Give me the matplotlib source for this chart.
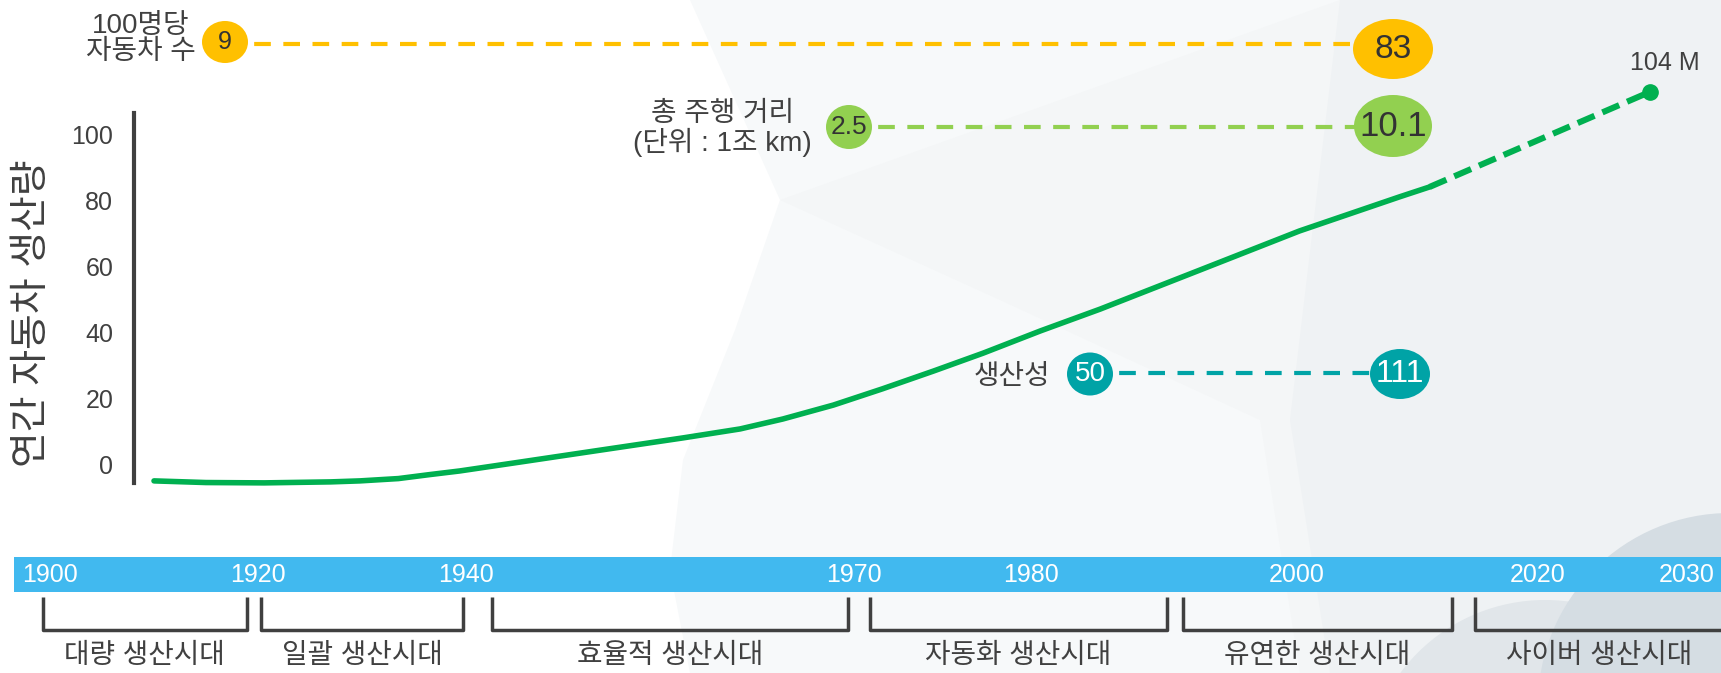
import numpy as np
import matplotlib
matplotlib.use('Agg')
import matplotlib.pyplot as plt
from matplotlib.patches import Ellipse, Polygon, Circle
from matplotlib import transforms

plt.rcParams['font.family'] = ['Liberation Sans', 'Noto Sans CJK KR']

# ---------------- data ----------------
timeline_years = [1900, 1920, 1940, 1970, 1980, 2000, 2020, 2030]
timeline_labels = ['1900', '1920', '1940', '1970', '1980', '2000', '2020', '2030']

era_names = ['대량 생산시대', '일괄 생산시대', '효율적 생산시대',
             '자동화 생산시대', '유연한 생산시대', '사이버 생산시대']
era_start = [1899.3, 1920.3, 1942.0, 1970.9, 1991.4, 2014.8]
era_end = [1918.9, 1939.7, 1969.5, 1990.2, 2012.9, 2032.4]

prod_years = [1910.0, 1915.0, 1920.6, 1927.0, 1929.8, 1933.5, 1936.5, 1939.4,
              1944.2, 1950.4, 1956.8, 1961.2, 1964.5, 1968.4, 1971.6, 1974.5,
              1977.3, 1980.7, 1985.2, 1992.7, 2000.2, 2008.5, 2011.0]
prod_values = [-4.8, -5.3, -5.4, -5.1, -4.8, -4.1, -2.9, -1.8,
               0.9, 4.5, 8.2, 10.9, 13.9, 18.1, 23.0, 28.4,
               33.8, 40.5, 47.1, 58.9, 70.7, 81.0, 84.0]
proj_years = [2011.0, 2027.5]
proj_values = [84.0, 112.7]
proj_label = '104 M'

y_ticks = [0, 20, 40, 60, 80, 100]
y_label = '연간 자동차 생산량'

metric_names = ['100명당\n자동차 수', '총 주행 거리\n(단위 : 1조 km)', '생산성']
metric_start = ['9', '2.5', '50']
metric_end = ['83', '10.1', '111']

# ---------------- layout ----------------
W, H = 1721, 673
YA = np.array(timeline_years, dtype=float)          # timeline anchors (years)
PA = np.array([50, 258, 466, 854, 1031, 1297, 1538, 1687], dtype=float)  # pixel positions
Y0_PX, PPU = 465.0, 3.31


def _pw(x, xa, pa):
    x = np.asarray(x, dtype=float)
    out = np.interp(x, xa, pa)
    s0 = (pa[1] - pa[0]) / (xa[1] - xa[0])
    s1 = (pa[-1] - pa[-2]) / (xa[-1] - xa[-2])
    out = np.where(x < xa[0], pa[0] + (x - xa[0]) * s0, out)
    out = np.where(x > xa[-1], pa[-1] + (x - xa[-1]) * s1, out)
    return out


def year_to_px(x):
    return _pw(x, YA, PA)


def px_to_year(p):
    return _pw(p, PA, YA)


def yr(p):
    return float(px_to_year(p))


def val(py):
    return (Y0_PX - py) / PPU


DARK = '#404040'
GOLD, LGREEN, TEAL = '#ffc000', '#92d050', '#00a3a6'
LINE_GREEN = '#00b050'
BAR_BLUE = '#41b9ef'

fig = plt.figure(figsize=(W / 100, H / 100), dpi=100)
fig.patch.set_facecolor('white')

# background decoration (pixel space)
bg = fig.add_axes([0, 0, 1, 1], zorder=0)
bg.set_xlim(0, W)
bg.set_ylim(H, 0)
bg.axis('off')
bg.add_patch(Polygon([(690, 0), (780, 200), (735, 330), (683, 460), (670, 570),
                      (690, H), (W, H), (W, 0)], closed=True, fc='#f7f9fa', ec='none'))
bg.add_patch(Polygon([(780, 200), (1340, 0), (W, 0), (W, H), (1300, H), (1260, 420),
                      (1000, 300)], closed=True, fc='#f4f6f7', ec='none'))
bg.add_patch(Polygon([(1340, 0), (W, 0), (W, H), (1330, H), (1290, 420)],
                     closed=True, fc='#eff2f4', ec='none'))
bg.add_patch(Circle((1545, 780), 180, fc='#e1e6ea', ec='none'))
bg.add_patch(Circle((1730, 705), 192, fc='#d5dde3', ec='none'))

# main axes
ax = fig.add_axes([0, 0, 1, 1], zorder=1)
ax.patch.set_alpha(0)
ax.set_xscale('function', functions=(year_to_px, px_to_year))
ax.set_xlim(yr(0), yr(W))
ax.set_ylim(val(H), val(0))

for s in ['top', 'right', 'bottom']:
    ax.spines[s].set_visible(False)
ax.spines['left'].set_position(('data', yr(134)))
ax.spines['left'].set_bounds(val(483), val(113))
ax.spines['left'].set_color(DARK)
ax.spines['left'].set_linewidth(3.0)
ax.set_xticks([])
ax.set_yticks(y_ticks)
ax.set_yticklabels([str(t) for t in y_ticks])
ax.tick_params(axis='y', length=0, pad=15, labelsize=18, labelcolor=DARK)

ax.text(yr(33), val(313), y_label, rotation=90, ha='center', va='center',
        fontsize=28, color=DARK)

# production line
ax.plot(prod_years, prod_values, color=LINE_GREEN, lw=4.0,
        solid_capstyle='round', solid_joinstyle='round', zorder=5)
ax.plot(proj_years, proj_values, color=LINE_GREEN, lw=4.4, dashes=(3.0, 1.4), zorder=5)
ax.plot([proj_years[-1]], [proj_values[-1]], 'o', ms=11, color=LINE_GREEN, zorder=5)
ax.text(yr(1665), val(63), proj_label, ha='center', va='center', fontsize=18, color=DARK)

# timeline bar
ax.axhspan(val(592), val(557), xmin=14 / W, xmax=1, color=BAR_BLUE, lw=0, zorder=3)
for yv, lab in zip(timeline_years, timeline_labels):
    ax.text(yv, val(575), lab, ha='center', va='center', color='white',
            fontsize=18, zorder=4)

# era brackets
top_v, bot_v = val(597), val(630)
for x0, x1, name in zip(era_start, era_end, era_names):
    ax.plot([x0, x0, x1, x1], [top_v, bot_v, bot_v, top_v], color=DARK, lw=2.5,
            solid_joinstyle='round', solid_capstyle='butt', zorder=3, clip_on=False)
    cx = yr((float(year_to_px(x0)) + float(year_to_px(x1))) / 2)
    ax.text(cx, val(656), name, ha='center', va='center', fontsize=20, color=DARK)

# metric rows
row_y_px = [44, 127, 373]
start_y_px = [42, 127, 374]
end_y_px = [49, 126, 374]
start_px = [225, 849, 1090]
end_px = [1393, 1393, 1400]
start_size = [(46, 42), (46, 44), (46, 43)]
end_size = [(80, 60), (78, 62), (60, 50)]
row_colors = [GOLD, LGREEN, TEAL]
row_txt = ['#333333', '#333333', 'white']
start_fs = [18, 19, 20]
end_fs = [24, 25, 23]
label_right_px = [196, 812, 1050]
label_y_px = [39, 129, 377]


def bubble(xy, size, color):
    tr = fig.dpi_scale_trans + transforms.ScaledTranslation(xy[0], xy[1], ax.transData)
    e = Ellipse((0, 0), size[0] / 100, size[1] / 100, transform=tr,
                facecolor=color, edgecolor='none', zorder=6)
    ax.add_artist(e)


for i in range(3):
    yv = val(row_y_px[i])
    xs, xe = yr(start_px[i]), yr(end_px[i])
    ys, ye = val(start_y_px[i]), val(end_y_px[i])
    ax.plot([xs, xe], [yv, yv], color=row_colors[i], lw=3.0, dashes=(4.0, 3.0), zorder=4)
    bubble((xs, ys), start_size[i], row_colors[i])
    bubble((xe, ye), end_size[i], row_colors[i])
    ax.text(xs, ys, metric_start[i], ha='center', va='center', fontsize=start_fs[i],
            color=row_txt[i], zorder=7)
    ax.text(xe, ye, metric_end[i], ha='center', va='center', fontsize=end_fs[i],
            color=row_txt[i], zorder=7)
    ax.text(yr(label_right_px[i]), val(label_y_px[i]), metric_names[i], ha='right',
            va='center', multialignment='center', fontsize=20, color=DARK,
            linespacing=1.0, zorder=7)

fig.savefig('out.png', dpi=100, facecolor=fig.get_facecolor())
